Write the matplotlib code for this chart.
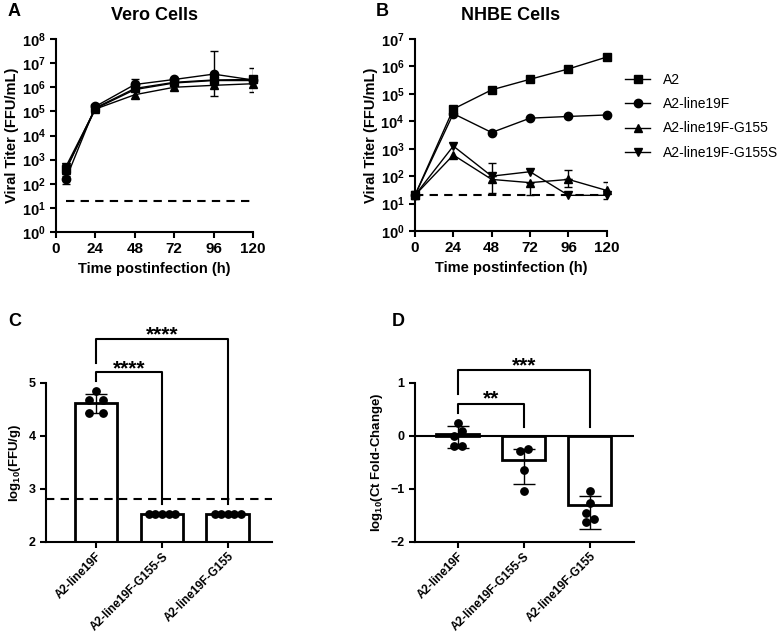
import numpy as np
import matplotlib
matplotlib.use("Agg")
import matplotlib.pyplot as plt

plt.rcParams["font.family"] = ["Liberation Sans", "DejaVu Sans"]
plt.rcParams["mathtext.fontset"] = "custom"
plt.rcParams["mathtext.rm"] = "Liberation Sans:bold"
plt.rcParams["mathtext.bf"] = "Liberation Sans:bold"
plt.rcParams["mathtext.it"] = "Liberation Sans:bold"

nan = np.nan

# ---- data ----
series_names = ["A2", "A2-line19F", "A2-line19F-G155", "A2-line19F-G155S"]
series_markers = ["s", "o", "^", "v"]

# Panel A: Vero cells
vero_time = [6, 24, 48, 72, 96, 120]
vero_a2 = [400, 1.4e5, 8.9e5, 1.6e6, 2.0e6, 2.1e6]
vero_19f = [155, 1.6e5, 1.3e6, 2.1e6, 3.5e6, 2.0e6]
vero_g155 = [370, 1.25e5, 4.9e5, 1.0e6, 1.2e6, 1.4e6]
vero_g155s = [510, 1.3e5, 8.0e5, 1.5e6, 1.9e6, 1.9e6]
vero_lo = [[nan] * 6, [95, nan, nan, nan, nan, nan], [nan, nan, nan, nan, 4.2e5, 6.3e5], [nan] * 6]
vero_hi = [[nan, nan, nan, nan, nan, 6.3e6], [220, nan, 2.3e6, nan, 3.2e7, nan], [nan] * 6, [nan] * 6]

# Panel B: NHBE cells
nhbe_time = [0, 24, 48, 72, 96, 120]
nhbe_a2 = [20, 2.8e4, 1.4e5, 3.4e5, 8.1e5, 2.2e6]
nhbe_19f = [20, 1.9e4, 3.9e3, 1.3e4, 1.5e4, 1.7e4]
nhbe_g155 = [20, 590, 76, 58, 76, 30]
nhbe_g155s = [20, 1250, 100, 145, 20, 20]
nhbe_lo = [[nan] * 6, [nan] * 6, [nan, nan, nan, 20, 41, 15], [nan, nan, 24, nan, nan, nan]]
nhbe_hi = [[nan] * 6, [nan] * 6, [nan, nan, nan, nan, 167, 63], [nan, nan, 300, nan, nan, nan]]
detect_limit = 20

# Panel C: lung titers
groups = ["A2-line19F", "A2-line19F-G155-S", "A2-line19F-G155"]
c_means = [4.62, 2.53, 2.53]
c_sd = [0.18, 0, 0]
c_points = [[4.84, 4.67, 4.67, 4.43, 4.43], [2.53] * 5, [2.53] * 5]
c_offsets = [[0, -0.1, 0.1, -0.1, 0.1], [-0.2, -0.1, 0, 0.1, 0.2], [-0.2, -0.1, 0, 0.1, 0.2]]
c_limit = 2.82

# Panel D: Ct fold change
d_means = [0.04, -0.45, -1.31]
d_err = [(-0.23, 0.18), (-0.90, -0.24), (-1.75, -1.13)]
d_points = [[0.25, 0.09, -0.01, -0.18, -0.18], [-0.29, -0.25, -0.64, -1.03], [-1.03, -1.26, -1.45, -1.56, -1.62]]
d_offsets = [[0, 0.06, -0.06, -0.06, 0.06], [-0.06, 0.06, 0, 0], [0, 0, -0.06, 0.06, -0.06]]

fig = plt.figure(figsize=(7.77, 6.35), dpi=100)


def style_axes(ax, size=10):
    for s in ["top", "right"]:
        ax.spines[s].set_visible(False)
    for s in ["left", "bottom"]:
        ax.spines[s].set_linewidth(1.5)
    ax.tick_params(width=1.5, length=4, labelsize=size)
    for lab in ax.get_xticklabels() + ax.get_yticklabels():
        lab.set_fontweight("bold")


def growth_panel(ax, t, data, lo, hi, start):
    for i, vals in enumerate(data):
        ax.plot(t, vals, color="black", lw=1, marker=series_markers[i], ms=6,
                label=series_names[i], clip_on=False, zorder=3)
        vals = np.array(vals)
        l = np.array(lo[i])
        h = np.array(hi[i])
        for j in range(len(t)):
            if not np.isnan(l[j]):
                ax.errorbar(t[j], vals[j], yerr=[[vals[j] - l[j]], [0]], color="black", lw=1, capsize=3)
            if not np.isnan(h[j]):
                ax.errorbar(t[j], vals[j], yerr=[[0], [h[j] - vals[j]]], color="black", lw=1, capsize=3)
    ax.plot([start, 120], [detect_limit, detect_limit], ls=(0, (4, 3)), color="black", lw=1.5)
    ax.set_yscale("log")
    ax.set_xlim(0, 120)
    ax.set_xticks([0, 24, 48, 72, 96, 120])
    ax.minorticks_off()
    ax.set_xlabel("Time postinfection (h)", fontsize=10.5, fontweight="bold")
    ax.set_ylabel("Viral Titer (FFU/mL)", fontsize=10.5, fontweight="bold", labelpad=2)
    style_axes(ax, 10.5)
    ax.tick_params(axis="x", labelsize=11)


# A
ax_a = fig.add_axes([0.0721, 0.6346, 0.2535, 0.304])
growth_panel(ax_a, vero_time, [vero_a2, vero_19f, vero_g155, vero_g155s], vero_lo, vero_hi, 6)
ax_a.set_ylim(1, 1e8)
ax_a.set_yticks([10.0 ** k for k in range(9)])
ax_a.set_yticklabels([r"$\mathbf{10^{%d}}$" % k for k in range(9)])
ax_a.set_title("Vero Cells", fontsize=13, fontweight="bold", pad=14)

# B
ax_b = fig.add_axes([0.534, 0.6362, 0.247, 0.3024])
growth_panel(ax_b, nhbe_time, [nhbe_a2, nhbe_19f, nhbe_g155, nhbe_g155s], nhbe_lo, nhbe_hi, 0)
ax_b.set_ylim(1, 1e7)
ax_b.set_yticks([10.0 ** k for k in range(8)])
ax_b.set_yticklabels([r"$\mathbf{10^{%d}}$" % k for k in range(8)])
ax_b.set_title("NHBE Cells", fontsize=13, fontweight="bold", pad=14)
ax_b.legend(loc="upper left", bbox_to_anchor=(1.03, 0.89), frameon=False, fontsize=10,
            handlelength=1.8, handletextpad=0.9, labelspacing=0.75)


def bracket(ax, x0, x1, y_top, y0, y1, text, ty):
    ax.plot([x0, x0, x1, x1], [y0, y_top, y_top, y1], color="black", lw=1.5, clip_on=False)
    # asterisks sit high in the em box, so place by baseline
    ax.text((x0 + x1) / 2, ty - 0.22, text, ha="center", va="baseline", fontsize=15, fontweight="bold")


# C
ax_c = fig.add_axes([0.0592, 0.1465, 0.2909, 0.2504])
x = np.arange(len(groups))
ax_c.bar(x, np.array(c_means) - 2, bottom=2, width=0.65, color="white", edgecolor="black", lw=2, zorder=2)
ax_c.errorbar(x[:1], c_means[:1], yerr=c_sd[:1], color="black", lw=1, capsize=8, capthick=1, ls="none", zorder=3)
for i in range(len(groups)):
    ax_c.scatter(x[i] + np.array(c_offsets[i]), c_points[i], s=28, color="black", zorder=4, clip_on=False)
ax_c.plot([-0.76, 2.67], [c_limit, c_limit], ls=(0, (4, 3)), color="black", lw=1.5)
ax_c.set_xlim(-0.76, 2.67)
ax_c.set_ylim(2, 5)
ax_c.set_yticks([2, 3, 4, 5])
ax_c.set_xticks(x)
ax_c.set_xticklabels(groups, rotation=45, ha="right", rotation_mode="anchor")
ax_c.set_ylabel(r"log$_{10}$(FFU/g)", fontsize=9.5, fontweight="bold")
style_axes(ax_c, 9)
ax_c.tick_params(axis="x", labelsize=8.5, pad=2)
bracket(ax_c, 0, 1, 5.20, 5.03, 2.72, "****", 5.39)
bracket(ax_c, 0, 2, 5.83, 5.38, 2.72, "****", 6.03)

# D
ax_d = fig.add_axes([0.534, 0.1465, 0.2819, 0.2504])
ax_d.bar(x, d_means, width=0.65, color="white", edgecolor="black", lw=2, zorder=2)
for i in range(len(groups)):
    lo, hi = d_err[i]
    ax_d.errorbar(x[i], d_means[i], yerr=[[d_means[i] - lo], [hi - d_means[i]]],
                  color="black", lw=1, capsize=8, capthick=1, ls="none", zorder=3)
    ax_d.scatter(x[i] + np.array(d_offsets[i]), d_points[i], s=28, color="black", zorder=4)
ax_d.axhline(0, color="black", lw=1.5, zorder=1)
ax_d.set_xlim(-0.65, 2.67)
ax_d.set_ylim(-2, 1)
ax_d.set_yticks([-2, -1, 0, 1])
ax_d.set_xticks(x)
ax_d.set_xticklabels(groups, rotation=45, ha="right", rotation_mode="anchor")
ax_d.set_ylabel(r"log$_{10}$(Ct Fold-Change)", fontsize=9.5, fontweight="bold")
style_axes(ax_d, 9)
ax_d.tick_params(axis="x", labelsize=8.5, pad=2)
bracket(ax_d, 0, 1, 0.61, 0.43, 0.16, "**", 0.81)
bracket(ax_d, 0, 2, 1.24, 0.79, 0.16, "***", 1.44)

for lab, (px, py) in zip("ABCD", [(8, 12), (376, 12), (8, 322), (392, 322)]):
    fig.text(px / 777, 1 - py / 635, lab, fontsize=13, fontweight="bold", ha="left", va="center")

fig.savefig("out.png", dpi=100)
